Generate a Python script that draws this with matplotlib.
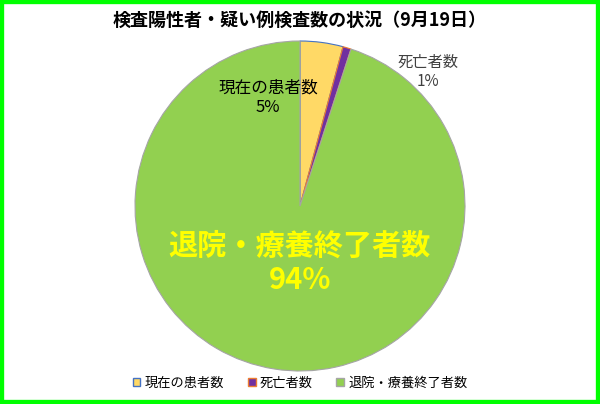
import matplotlib
matplotlib.use("Agg")
import matplotlib.pyplot as plt
from matplotlib.patches import Rectangle

plt.rcParams['font.family'] = ['Noto Sans CJK JP', 'DejaVu Sans']

title = "検査陽性者・疑い例検査数の状況（9月19日）"
categories = ["現在の患者数", "死亡者数", "退院・療養終了者数"]
values = [4.2, 0.8, 95.0]
labels_pct = ["5%", "1%", "94%"]
colors = ["#FFD966", "#7030A0", "#92D050"]
edges = ["#4472C4", "#ED7D31", "#A5A5A5"]

fig = plt.figure(figsize=(6, 4.04), dpi=100)
fig.patches.append(Rectangle((0, 0), 1, 1, transform=fig.transFigure, fill=False,
                             edgecolor="#00FF00", linewidth=6))
cx, cy, r = 300, 206, 165
ax = fig.add_axes([(cx - r) / 600, (404 - cy - r) / 404, 2 * r / 600, 2 * r / 404])
wedges, _ = ax.pie(values, colors=colors, startangle=90, counterclock=False,
                   wedgeprops=dict(linewidth=0.8))
for w, e in zip(wedges, edges):
    w.set_edgecolor(e)
ax.set_xlim(-1, 1)
ax.set_ylim(-1, 1)
ax.set_aspect('auto')

fig.text(0.5, 1 - 20 / 404, title, ha='center', va='center', fontsize=13, fontweight='bold')
fig.text(268 / 600, 1 - 98 / 404, categories[0] + "\n" + labels_pct[0], ha='center', va='center',
         fontsize=12, linespacing=1.15)
fig.text(428 / 600, 1 - 72 / 404, categories[1] + "\n" + labels_pct[1], ha='center', va='center',
         fontsize=11, color="#404040", linespacing=1.15)
fig.text(300 / 600, 1 - 263 / 404, categories[2] + "\n" + labels_pct[2], ha='center', va='center',
         fontsize=21, color="#FFFF00", fontweight='bold', linespacing=1.15)

handles = [Rectangle((0, 0), 1, 1, facecolor=c, edgecolor=e) for c, e in zip(colors, edges)]
fig.legend(handles, categories, loc='center', bbox_to_anchor=(0.5, 1 - 383 / 404), ncol=3,
           frameon=False, fontsize=9.5, handlelength=0.6, handleheight=0.6, handletextpad=0.3,
           columnspacing=1.8)

fig.savefig("out.png", dpi=100)
